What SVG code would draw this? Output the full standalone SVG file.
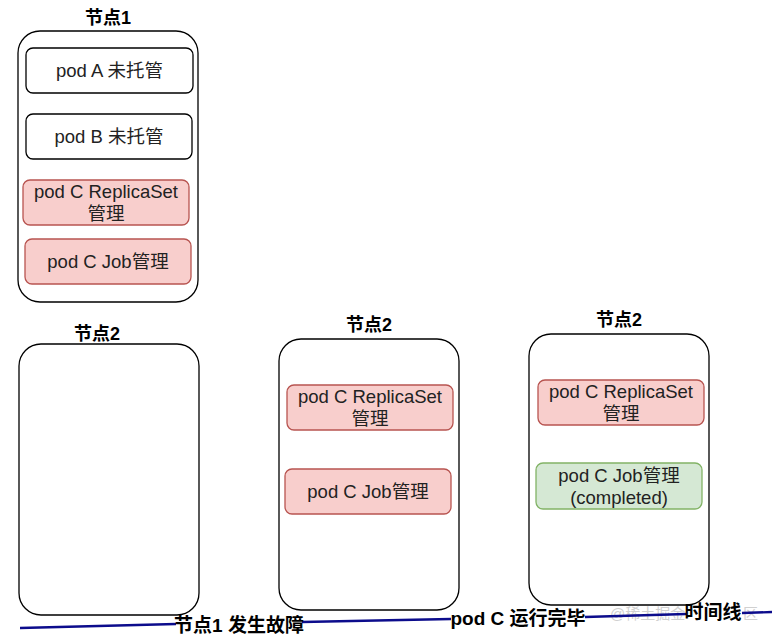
<svg xmlns="http://www.w3.org/2000/svg" width="772" height="641" viewBox="0 0 772 641">
<style>
.node{fill:#ffffff;stroke:#000000;stroke-width:1.3}
.pod{fill:#ffffff;stroke:#000000;stroke-width:1.3}
.red{fill:#f8cecc;stroke:#b85450;stroke-width:1.3}
.green{fill:#d5e8d4;stroke:#82b366;stroke-width:1.3}
.t{font-family:"Liberation Sans","Noto Sans CJK SC",sans-serif;font-size:18.5px;fill:#222;text-anchor:middle}
.title{font-family:"Liberation Sans","Noto Sans CJK SC",sans-serif;font-size:18px;font-weight:bold;fill:#000;text-anchor:middle}
.lab{font-family:"Liberation Sans","Noto Sans CJK SC",sans-serif;font-size:19px;font-weight:bold;fill:#000;text-anchor:middle}
.tl{stroke:#0c0c8c;stroke-width:2.4;fill:none}
.wm{font-family:"Liberation Sans","Noto Sans CJK SC",sans-serif;font-size:15px;fill:#d0d0d0}
</style>
<g id="node1">
<text class="title" x="108" y="24">节点1</text>
<rect class="node" x="18" y="31" width="180" height="271" rx="22"/>
<g id="podA"><rect class="pod" x="26" y="48" width="167" height="45" rx="7"/><text class="t" x="109.5" y="77">pod A 未托管</text></g>
<g id="podB"><rect class="pod" x="26" y="114" width="166" height="45" rx="7"/><text class="t" x="109" y="143">pod B 未托管</text></g>
<g id="podC-rs-1"><rect class="red" x="23" y="180" width="166" height="45" rx="7"/><text class="t" x="106" y="198">pod C ReplicaSet</text><text class="t" x="106" y="220">管理</text></g>
<g id="podC-job-1"><rect class="red" x="25" y="239" width="166" height="45" rx="7"/><text class="t" x="108" y="268">pod C Job管理</text></g>
</g>
<g id="node2a">
<text class="title" x="97" y="340">节点2</text>
<rect class="node" x="19" y="344" width="180" height="271" rx="22"/>
</g>
<g id="node2b">
<text class="title" x="369" y="331">节点2</text>
<rect class="node" x="279" y="339" width="180" height="271" rx="22"/>
<g id="podC-rs-2"><rect class="red" x="287" y="385" width="166" height="45" rx="7"/><text class="t" x="370" y="403">pod C ReplicaSet</text><text class="t" x="370" y="425">管理</text></g>
<g id="podC-job-2"><rect class="red" x="285" y="469" width="166" height="45" rx="7"/><text class="t" x="368" y="498">pod C Job管理</text></g>
</g>
<g id="node2c">
<text class="title" x="619" y="326">节点2</text>
<rect class="node" x="529" y="334" width="180" height="271" rx="22"/>
<g id="podC-rs-3"><rect class="red" x="538" y="380" width="166" height="45" rx="7"/><text class="t" x="621" y="398">pod C ReplicaSet</text><text class="t" x="621" y="420">管理</text></g>
<g id="podC-job-3"><rect class="green" x="536" y="463" width="166" height="46" rx="7"/><text class="t" x="619" y="482">pod C Job管理</text><text class="t" x="619" y="504">(completed)</text></g>
</g>
<text class="wm" x="610" y="619">@稀土掘金</text>
<text class="wm" x="743" y="619">区</text>
<g id="connectors">
<path class="tl" d="M20 628 L176 624"/>
<path class="tl" d="M302 622 L451 619"/>
<path class="tl" d="M585 617 L686 614"/>
<path class="tl" d="M742 613 L772 612"/>
</g>
<g id="labels">
<text class="lab" x="239" y="632">节点1 发生故障</text>
<text class="lab" x="518" y="625">pod C 运行完毕</text>
<text class="lab" x="713" y="619">时间线</text>
</g>
</svg>
